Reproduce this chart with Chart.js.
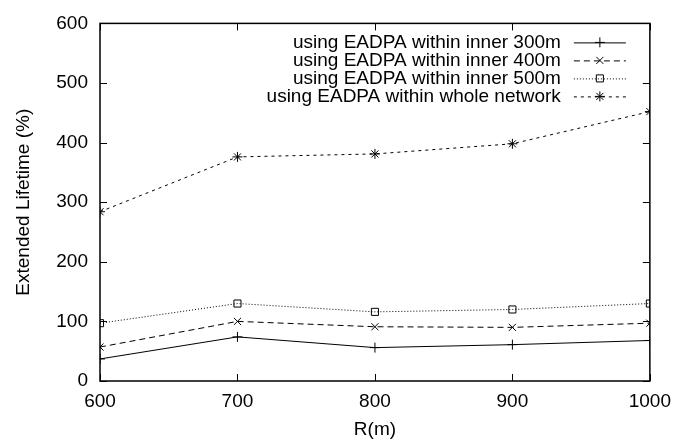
<!DOCTYPE html>
<html>
<head>
<meta charset="utf-8">
<script src="https://cdn.jsdelivr.net/npm/chart.js@4/dist/chart.umd.min.js"></script>
<style>
  html, body { margin: 0; padding: 0; background: #fff; }
  #wrap { width: 680px; height: 444px; }
</style>
</head>
<body>
<div id="wrap"><canvas id="lifetimeChart"></canvas></div>
<script>
// raio da rede (m) e tempo de vida estendido (%)
const raios = [600, 700, 800, 900, 1000];
const inner300 = [37, 74, 56, 61, 68];
const inner400 = [57, 100, 91, 90, 97];
const inner500 = [97, 130, 116, 120, 130];
const wholeNet = [284, 376, 381, 398, 452];
const xTicks = [600, 700, 800, 900, 1000];
const yTicks = [0, 100, 200, 300, 400, 500, 600];

const fonte = "'Liberation Sans', Arial, sans-serif";
const tamanho = 19;

function pontos(valores) {
    return raios.map((r, i) => ({ x: r, y: valores[i] }));
}

function serie(label, valores, dash, estilo) {
    return {
        label: label,
        data: pontos(valores),
        borderColor: '#000',
        borderWidth: 1,
        borderDash: dash,
        pointStyle: estilo,
        pointRadius: 5,
        pointBorderWidth: 1,
        pointBorderColor: '#000',
        pointBackgroundColor: 'rgba(0,0,0,0)',
        fill: false,
        tension: 0
    };
}

// moldura, marcas para dentro e legenda no canto superior direito
const molduraPlugin = {
    id: 'moldura',
    afterDatasetsDraw(chart) {
        const ctx = chart.ctx;
        const a = chart.chartArea;
        const x = chart.scales.x, y = chart.scales.y;
        ctx.save();
        ctx.strokeStyle = '#000';
        ctx.lineWidth = 1.5;
        ctx.strokeRect(a.left, a.top, a.right - a.left, a.bottom - a.top);
        ctx.lineWidth = 1;
        ctx.beginPath();
        xTicks.forEach(v => {
            const px = Math.round(x.getPixelForValue(v)) + 0.5;
            ctx.moveTo(px, a.bottom); ctx.lineTo(px, a.bottom - 7);
            ctx.moveTo(px, a.top); ctx.lineTo(px, a.top + 7);
        });
        yTicks.forEach(v => {
            const py = Math.round(y.getPixelForValue(v)) + 0.5;
            ctx.moveTo(a.left, py); ctx.lineTo(a.left + 7, py);
            ctx.moveTo(a.right, py); ctx.lineTo(a.right - 7, py);
        });
        ctx.stroke();

        // legenda
        ctx.font = tamanho + 'px ' + fonte;
        ctx.textAlign = 'right';
        ctx.textBaseline = 'middle';
        const textoFim = a.right - 89;
        const linhaIni = a.right - 76, linhaFim = a.right - 24;
        chart.data.datasets.forEach((ds, i) => {
            const ly = a.top + 19 + i * 18;
            ctx.fillStyle = '#000';
            ctx.fillText(ds.label, textoFim, ly);
            ctx.setLineDash(ds.borderDash);
            ctx.beginPath();
            ctx.moveTo(linhaIni, ly + 0.5);
            ctx.lineTo(linhaFim, ly + 0.5);
            ctx.stroke();
            ctx.setLineDash([]);
            ctx.fillStyle = 'rgba(0,0,0,0)';
            Chart.helpers.drawPoint(ctx, {
                pointStyle: ds.pointStyle, radius: 5, borderWidth: 1, rotation: 0
            }, (linhaIni + linhaFim) / 2, ly);
        });
        ctx.restore();
    }
};

new Chart(document.getElementById('lifetimeChart'), {
    type: 'line',
    data: {
        datasets: [
            serie('using EADPA within inner 300m', inner300, [], 'cross'),
            serie('using EADPA within inner 400m', inner400, [6, 4], 'crossRot'),
            serie('using EADPA within inner 500m', inner500, [1, 2], 'rect'),
            serie('using EADPA within whole network', wholeNet, [3, 4], 'star')
        ]
    },
    options: {
        responsive: true,
        maintainAspectRatio: false,
        animation: false,
        layout: {
            padding: { top: 18, right: 28, left: 0, bottom: 0 }
        },
        plugins: {
            legend: { display: false },
            tooltip: { enabled: false }
        },
        scales: {
            x: {
                type: 'linear',
                min: 600,
                max: 1000,
                afterBuildTicks: s => { s.ticks = xTicks.map(v => ({ value: v })); },
                afterFit: s => { s.height = 63; },
                grid: { display: false, drawTicks: false },
                border: { display: false },
                ticks: {
                    color: '#000',
                    padding: 9,
                    maxRotation: 0,
                    callback: v => String(v),
                    font: { family: fonte, size: tamanho }
                },
                title: {
                    display: true,
                    text: 'R(m)',
                    color: '#000',
                    padding: { top: 0, bottom: 3 },
                    font: { family: fonte, size: tamanho }
                }
            },
            y: {
                min: 0,
                max: 600,
                afterBuildTicks: s => { s.ticks = yTicks.map(v => ({ value: v })); },
                afterFit: s => { s.width = 100; },
                grid: { display: false, drawTicks: false },
                border: { display: false },
                ticks: {
                    color: '#000',
                    padding: 12,
                    callback: v => String(v),
                    font: { family: fonte, size: tamanho }
                },
                title: {
                    display: true,
                    text: 'Extended Lifetime (%)',
                    color: '#000',
                    padding: { top: 12, bottom: 10 },
                    font: { family: fonte, size: tamanho }
                }
            }
        }
    },
    plugins: [molduraPlugin]
});
</script>
</body>
</html>
